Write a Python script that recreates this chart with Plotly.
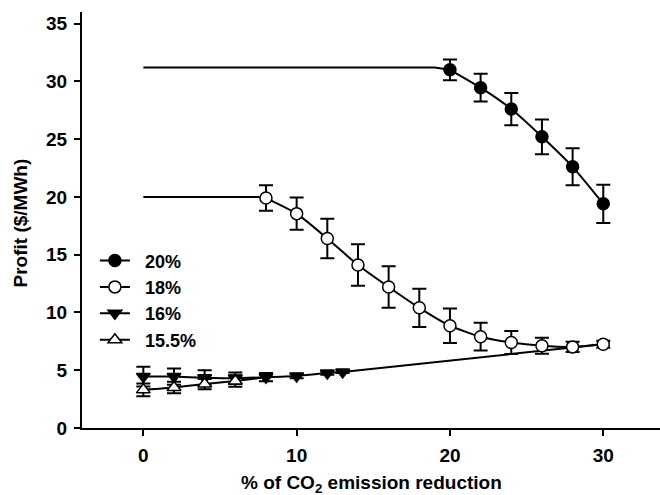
import plotly.graph_objects as go

# Profit vs. CO2 emission reduction for four capacity-factor scenarios
x_20 = [20, 22, 24, 26, 28, 30]
profit_20 = [31.0, 29.45, 27.6, 25.2, 22.6, 19.4]
err_20 = [0.9, 1.2, 1.4, 1.5, 1.6, 1.65]
plateau_20_x = [0, 19, 20]
plateau_20_y = [31.2, 31.2, 31.0]

x_18 = [8, 10, 12, 14, 16, 18, 20, 22, 24, 26, 28, 30]
profit_18 = [19.9, 18.55, 16.4, 14.1, 12.2, 10.4, 8.85, 7.9, 7.4, 7.12, 7.02, 7.25]
err_18 = [1.1, 1.4, 1.7, 1.8, 1.8, 1.65, 1.5, 1.2, 1.0, 0.7, 0.45, 0.3]
plateau_18_x = [0, 7.5, 8]
plateau_18_y = [20.0, 20.0, 19.9]

x_16 = [0, 2, 4, 6, 8, 10, 12, 13]
profit_16 = [4.45, 4.45, 4.35, 4.3, 4.4, 4.5, 4.75, 4.85]
err_16 = [0.85, 0.7, 0.65, 0.5, 0.35, 0.2, 0.15, 0.1]
tail_16_x = [13, 30]
tail_16_y = [4.85, 7.25]

x_155 = [0, 2, 4, 6]
profit_155 = [3.3, 3.5, 3.8, 4.07]
err_155 = [0.55, 0.5, 0.45, 0.5]
tail_155_x = [6, 8]
tail_155_y = [4.07, 4.4]

series_names = ["20%", "18%", "16%", "15.5%"]
x_ticks = [0, 10, 20, 30]
y_ticks = [0, 5, 10, 15, 20, 25, 30, 35]

FONT = "Liberation Sans, Arial, sans-serif"
BLACK = "#000000"
PAD = "\u00a0\u00a0"  # a little breathing room between legend symbol and label


def err(arr):
    return dict(type="data", array=arr, visible=True, color=BLACK,
                thickness=2, width=7)


fig = go.Figure()

# connecting segments without markers
for xs, ys in [(tail_16_x, tail_16_y), (tail_155_x, tail_155_y),
               (plateau_18_x, plateau_18_y), (plateau_20_x, plateau_20_y)]:
    fig.add_trace(go.Scatter(x=xs, y=ys, mode="lines", showlegend=False,
                             hoverinfo="skip",
                             line=dict(color=BLACK, width=2)))

fig.add_trace(go.Scatter(
    x=x_16, y=profit_16, name=PAD + series_names[2], mode="lines+markers",
    legendrank=3, error_y=err(err_16),
    line=dict(color=BLACK, width=2, shape="spline", smoothing=0.5),
    marker=dict(symbol="triangle-down", size=12, color=BLACK,
                line=dict(color=BLACK, width=1.5))))

fig.add_trace(go.Scatter(
    x=x_155, y=profit_155, name=PAD + series_names[3], mode="lines+markers",
    legendrank=4, error_y=err(err_155),
    line=dict(color=BLACK, width=2, shape="spline", smoothing=0.5),
    marker=dict(symbol="triangle-up", size=12, color="white",
                line=dict(color=BLACK, width=1.5))))

fig.add_trace(go.Scatter(
    x=x_18, y=profit_18, name=PAD + series_names[1], mode="lines+markers",
    legendrank=2, error_y=err(err_18),
    line=dict(color=BLACK, width=2, shape="spline", smoothing=0.6),
    marker=dict(symbol="circle", size=12, color="white",
                line=dict(color=BLACK, width=1.5))))

fig.add_trace(go.Scatter(
    x=x_20, y=profit_20, name=PAD + series_names[0], mode="lines+markers",
    legendrank=1, error_y=err(err_20),
    line=dict(color=BLACK, width=2, shape="spline", smoothing=0.6),
    marker=dict(symbol="circle", size=12, color=BLACK,
                line=dict(color=BLACK, width=1.5))))

axis_common = dict(
    showgrid=False, zeroline=False, showline=True, linecolor=BLACK,
    linewidth=2, ticks="outside", ticklen=6, tickwidth=2, tickcolor=BLACK,
    tickfont=dict(family=FONT, size=19, color=BLACK, weight="bold"),
)

fig.update_xaxes(range=[-4, 33.7], tickvals=x_ticks, ticklabelstandoff=3,
                 **axis_common)
fig.update_yaxes(range=[0, 36], tickvals=y_ticks, ticklabelstandoff=3,
                 **axis_common)

fig.update_layout(
    width=660, height=495,
    margin=dict(l=82, r=0, t=12, b=67),
    paper_bgcolor="white", plot_bgcolor="white",
    showlegend=True,
    legend=dict(x=0.0223, y=0.4464, xanchor="left", yanchor="top",
                bgcolor="rgba(0,0,0,0)",
                font=dict(family=FONT, size=18, color=BLACK, weight="bold")),
    annotations=[
        dict(text="% of CO<sub>2</sub> emission reduction",
             xref="x domain", yref="paper", x=0.5, y=-0.1346,
             xanchor="center", yanchor="middle", showarrow=False,
             font=dict(family=FONT, size=19, color=BLACK, weight="bold")),
        dict(text="Profit ($/MWh)", textangle=-90,
             xref="paper", yref="paper", x=-0.1064, y=0.4928,
             xanchor="center", yanchor="middle", showarrow=False,
             font=dict(family=FONT, size=19, color=BLACK, weight="bold")),
    ],
)

fig.write_html("out.html")
